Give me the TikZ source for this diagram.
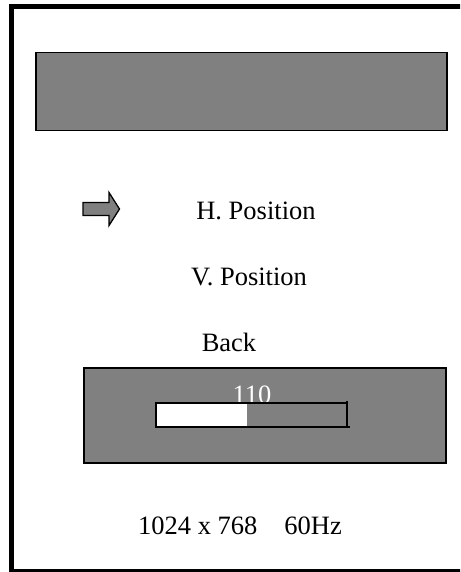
\documentclass[tikz,border=0pt]{standalone}
\usepackage{fontspec}
\setmainfont{Liberation Serif}
\begin{document}
\begin{tikzpicture}[x=1pt,y=-1pt,
  graybox/.style={fill=gray50, draw=black, line width=1.5pt},
  lbl/.style={inner sep=0pt, font=\fontsize{26.5}{31}\selectfont, anchor=base}]
\definecolor{gray50}{HTML}{808080}
\useasboundingbox (0,0) rectangle (460,572);
\begin{scope}
\clip (0,0) rectangle (460,572);
\draw[line width=5pt] (11.5,7) rectangle (470,571.5);
\end{scope}
% title box
\node[graybox, minimum width=411pt, minimum height=78pt, inner sep=0pt, anchor=north west] (title) at (35,52) {};
% arrow
\draw[fill=gray50, line width=1.3pt, line join=miter] (83,202.5) -- (109,202.5) -- (109,192.5) -- (119.5,209) -- (109,225.5) -- (109,215.5) -- (83,215.5) -- cycle;
% menu items
\node[lbl] (hpos) at (256,219) {H. Position};
\node[lbl] (vpos) at (249,285) {V. Position};
\node[lbl] (back) at (229,351) {Back};
% slider box
\node[graybox, minimum width=362pt, minimum height=95pt, inner sep=0pt, anchor=north west] (slider) at (83,367) {};
\node[lbl, text=white] (val) at (252,403.5) {110};
\fill[white] (156,403) rectangle (247,427);
\draw[line width=1.2pt] (156,403) rectangle (347,427);
\draw[line width=1.2pt] (347,401) -- (347,428);
\draw[line width=1.2pt] (347,427) -- (350,427);
% resolution
\node[lbl] (res) at (240,534) {1024 x 768\hspace{27pt}60Hz};
\end{tikzpicture}
\end{document}
